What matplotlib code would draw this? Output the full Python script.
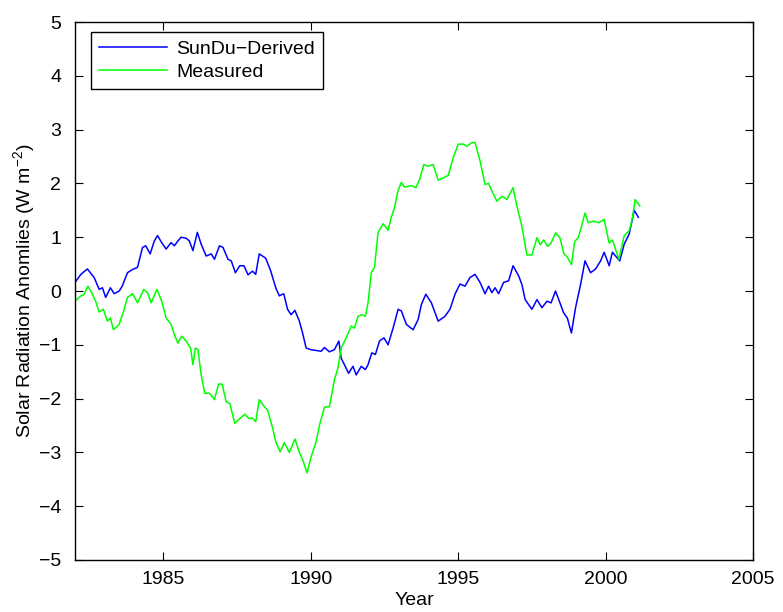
import numpy as np
import matplotlib
matplotlib.use("Agg")
import matplotlib.pyplot as plt

plt.rcParams["font.family"] = ["Liberation Sans", "DejaVu Sans"]
plt.rcParams["mathtext.fontset"] = "custom"
plt.rcParams["mathtext.rm"] = "Liberation Sans"
plt.rcParams["mathtext.it"] = "Liberation Sans"

# SunDu-derived anomalies (year, W m-2)
sundu_year = [1982.0, 1982.2, 1982.42, 1982.65, 1982.82, 1982.93, 1983.04, 1983.2,
              1983.33, 1983.5, 1983.6, 1983.78, 1983.95, 1984.12, 1984.29, 1984.4,
              1984.55, 1984.69, 1984.8, 1984.94, 1985.09, 1985.26, 1985.37, 1985.49,
              1985.6, 1985.77, 1985.88, 1986.0, 1986.15, 1986.28, 1986.45, 1986.62,
              1986.73, 1986.9, 1987.02, 1987.19, 1987.3, 1987.44, 1987.59, 1987.73,
              1987.87, 1988.02, 1988.13, 1988.25, 1988.47, 1988.64, 1988.81, 1988.93,
              1989.08, 1989.21, 1989.33, 1989.46, 1989.61, 1989.72, 1989.84, 1990.0,
              1990.35, 1990.46, 1990.63, 1990.8, 1990.95, 1991.03, 1991.14, 1991.28,
              1991.43, 1991.54, 1991.71, 1991.85, 1991.94, 1992.07, 1992.19, 1992.33,
              1992.48, 1992.62, 1992.79, 1992.96, 1993.07, 1993.24, 1993.47, 1993.64,
              1993.75, 1993.9, 1994.09, 1994.32, 1994.55, 1994.72, 1994.89, 1995.06,
              1995.23, 1995.4, 1995.57, 1995.74, 1995.91, 1996.03, 1996.14, 1996.25,
              1996.37, 1996.54, 1996.71, 1996.86, 1997.05, 1997.16, 1997.27, 1997.5,
              1997.67, 1997.84, 1998.01, 1998.15, 1998.3, 1998.41, 1998.58, 1998.7,
              1998.84, 1998.98, 1999.15, 1999.3, 1999.49, 1999.66, 1999.83, 1999.95,
              2000.12, 2000.23, 2000.34, 2000.48, 2000.63, 2000.8, 2000.97, 2001.11]
sundu_val = [0.16, 0.31, 0.41, 0.25, 0.03, 0.06, -0.12, 0.06,
             -0.05, 0.0, 0.09, 0.34, 0.4, 0.44, 0.81, 0.84,
             0.69, 0.93, 1.03, 0.9, 0.78, 0.9, 0.84, 0.93,
             1.0, 0.98, 0.93, 0.75, 1.09, 0.87, 0.65, 0.69,
             0.59, 0.84, 0.81, 0.59, 0.56, 0.34, 0.47, 0.47,
             0.30, 0.37, 0.31, 0.69, 0.61, 0.37, 0.06, -0.09,
             -0.05, -0.34, -0.44, -0.36, -0.56, -0.78, -1.06, -1.09,
             -1.12, -1.05, -1.13, -1.09, -0.93, -1.25, -1.37, -1.53,
             -1.40, -1.56, -1.40, -1.46, -1.37, -1.15, -1.18, -0.93,
             -0.87, -1.0, -0.69, -0.34, -0.37, -0.62, -0.72, -0.53,
             -0.25, -0.06, -0.22, -0.56, -0.47, -0.34, -0.06, 0.13,
             0.09, 0.25, 0.31, 0.16, -0.05, 0.09, -0.03, 0.06,
             -0.05, 0.16, 0.19, 0.47, 0.28, 0.12, -0.16, -0.34,
             -0.16, -0.31, -0.19, -0.22, 0.0, -0.16, -0.41, -0.5,
             -0.78, -0.31, 0.12, 0.56, 0.34, 0.41, 0.56, 0.72,
             0.47, 0.72, 0.65, 0.56, 0.87, 1.06, 1.5, 1.37]

# measured anomalies (year, W m-2)
meas_year = [1982.0, 1982.2, 1982.3, 1982.44, 1982.59, 1982.7, 1982.82, 1982.96,
             1983.1, 1983.2, 1983.3, 1983.5, 1983.65, 1983.78, 1983.95, 1984.12,
             1984.33, 1984.46, 1984.58, 1984.78, 1984.94, 1985.09, 1985.26, 1985.37,
             1985.49, 1985.62, 1985.77, 1985.92, 1986.0, 1986.08, 1986.17, 1986.28,
             1986.4, 1986.56, 1986.73, 1986.87, 1986.99, 1987.13, 1987.25, 1987.42,
             1987.59, 1987.76, 1987.9, 1988.02, 1988.13, 1988.25, 1988.42, 1988.53,
             1988.7, 1988.81, 1988.96, 1989.1, 1989.27, 1989.46, 1989.61, 1989.72,
             1989.87, 1990.0, 1990.18, 1990.29, 1990.46, 1990.63, 1990.8, 1990.92,
             1991.03, 1991.2, 1991.37, 1991.48, 1991.6, 1991.73, 1991.85, 1991.94,
             1992.05, 1992.16, 1992.28, 1992.45, 1992.62, 1992.73, 1992.84, 1992.96,
             1993.07, 1993.18, 1993.41, 1993.56, 1993.7, 1993.83, 1993.98, 1994.15,
             1994.32, 1994.49, 1994.66, 1994.83, 1995.0, 1995.18, 1995.29, 1995.46,
             1995.57, 1995.74, 1995.91, 1996.03, 1996.14, 1996.31, 1996.48, 1996.65,
             1996.86, 1996.99, 1997.16, 1997.33, 1997.5, 1997.67, 1997.78, 1997.9,
             1998.03, 1998.15, 1998.3, 1998.45, 1998.58, 1998.7, 1998.84, 1998.95,
             1999.07, 1999.18, 1999.3, 1999.41, 1999.6, 1999.77, 1999.95, 2000.12,
             2000.23, 2000.34, 2000.45, 2000.63, 2000.8, 2000.91, 2001.0, 2001.16]
meas_val = [-0.19, -0.09, -0.07, 0.09, -0.06, -0.19, -0.39, -0.34,
            -0.56, -0.5, -0.72, -0.62, -0.37, -0.12, -0.05, -0.22,
            0.03, -0.03, -0.22, 0.03, -0.19, -0.5, -0.62, -0.81,
            -0.97, -0.84, -0.93, -1.06, -1.37, -1.06, -1.09, -1.56,
            -1.9, -1.9, -2.02, -1.73, -1.73, -2.06, -2.09, -2.46,
            -2.37, -2.29, -2.37, -2.36, -2.43, -2.02, -2.15, -2.21,
            -2.54, -2.8, -2.99, -2.82, -3.0, -2.75, -3.0, -3.13,
            -3.38, -3.1, -2.8, -2.5, -2.16, -2.15, -1.65, -1.43,
            -1.06, -0.87, -0.65, -0.69, -0.47, -0.44, -0.47, -0.22,
            0.34, 0.44, 1.09, 1.25, 1.13, 1.37, 1.56, 1.87,
            2.02, 1.93, 1.96, 1.92, 2.09, 2.35, 2.32, 2.35,
            2.06, 2.1, 2.15, 2.48, 2.73, 2.73, 2.69, 2.76,
            2.76, 2.42, 1.98, 2.0, 1.86, 1.67, 1.76, 1.7,
            1.92, 1.58, 1.2, 0.67, 0.67, 0.99, 0.86, 0.95,
            0.83, 0.89, 1.08, 0.99, 0.7, 0.63, 0.49, 0.92,
            0.99, 1.2, 1.45, 1.27, 1.3, 1.27, 1.33, 0.89,
            0.95, 0.77, 0.59, 1.03, 1.12, 1.36, 1.7, 1.58]

FS = 14

fig = plt.figure(figsize=(7.83, 6.12), dpi=100)
ax = fig.add_axes([0.0958, 0.085, 0.8659, 0.879])

ax.plot(sundu_year, sundu_val, "-", color="#0000ff", lw=1.1, label="SunDu\u2212Derived")
ax.plot(meas_year, meas_val, "-", color="#00ff00", lw=1.1, label="Measured")

ax.set_xlim(1982, 2005)
ax.set_ylim(-5, 5)
ax.set_xticks(np.arange(1985, 2006, 5))
ax.set_yticks(np.arange(-5, 6, 1))
ax.tick_params(direction="in", top=True, right=True, length=6, width=0.8,
               labelsize=FS)
ax.tick_params(axis="x", pad=8)
ax.tick_params(axis="y", pad=10)
for s in ax.spines.values():
    s.set_linewidth(1.0)

ax.set_xlabel("Year", fontsize=FS, labelpad=3)
ax.set_ylabel("Solar Radiation Anomlies (W m$^{-2}$)", fontsize=FS, labelpad=1)

leg = ax.legend(loc="upper left", fontsize=FS, fancybox=False, framealpha=1,
                edgecolor="black", handlelength=3.5, borderpad=0.4,
                labelspacing=0.3, handletextpad=0.5, borderaxespad=0,
                bbox_to_anchor=(0.0236, 0.981))
leg.get_frame().set_linewidth(1.0)

fig.savefig("out.png", dpi=100)
